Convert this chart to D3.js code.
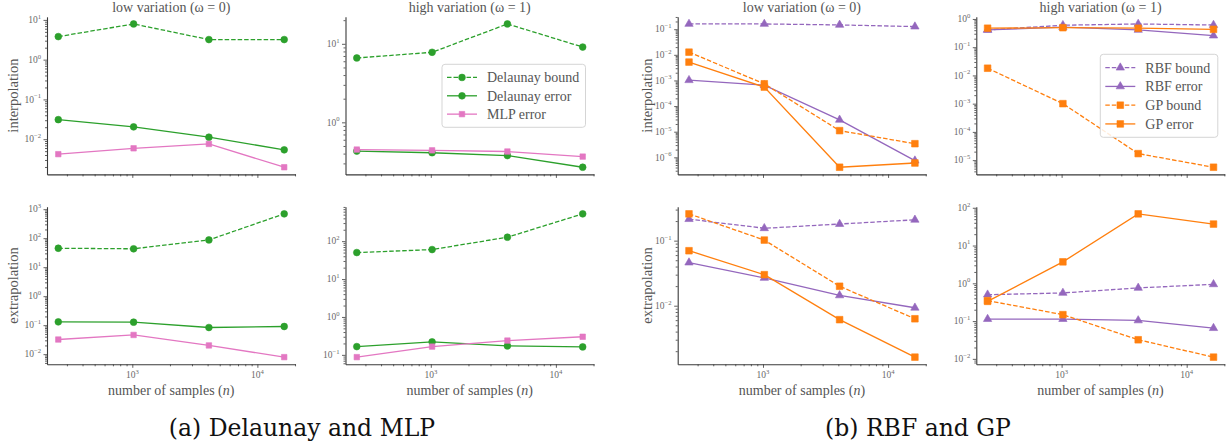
<!DOCTYPE html>
<html>
<head>
<meta charset="utf-8">
<script src="https://cdn.jsdelivr.net/npm/d3@7"></script>
<style>
  body { margin: 0; background: #fff; }
  text { font-family: "Liberation Serif", "DejaVu Serif", serif; }
  text.caption { font-family: "DejaVu Serif", serif; }
</style>
</head>
<body>
<script>
// sample sizes shared by every panel
var nSamples = [256, 1024, 4096, 16384];

// (a) Delaunay and MLP
var delaunayBoundLowInt = [3.8, 7.9, 3.2, 3.2];
var delaunayErrLowInt = [0.031, 0.0204, 0.0112, 0.0054];
var mlpErrLowInt = [0.0042, 0.0059, 0.0076, 0.00197];
var delaunayBoundHighInt = [6.6, 7.8, 17.9, 9.1];
var delaunayErrHighInt = [0.43, 0.41, 0.377, 0.268];
var mlpErrHighInt = [0.45, 0.44, 0.425, 0.366];
var delaunayBoundLowExt = [45, 43, 87, 690];
var delaunayErrLowExt = [0.13, 0.127, 0.083, 0.09];
var mlpErrLowExt = [0.032, 0.046, 0.020, 0.0079];
var delaunayBoundHighExt = [50, 60, 127, 525];
var delaunayErrHighExt = [0.165, 0.22, 0.172, 0.162];
var mlpErrHighExt = [0.087, 0.165, 0.238, 0.30];

// (b) RBF and GP
var rbfBoundLowInt = [0.16, 0.16, 0.147, 0.126];
var rbfErrLowInt = [0.00102, 0.00065, 2.9e-5, 7.4e-7];
var gpBoundLowInt = [0.0127, 0.00074, 1.1e-5, 3.4e-6];
var gpErrLowInt = [0.0052, 0.00055, 4.1e-7, 6.0e-7];
var rbfBoundHighInt = [0.41, 0.6, 0.665, 0.61];
var rbfErrHighInt = [0.41, 0.51, 0.41, 0.257];
var gpBoundHighInt = [0.018, 0.001, 1.7e-5, 5.6e-6];
var gpErrHighInt = [0.47, 0.49, 0.47, 0.43];
var rbfBoundLowExt = [0.214, 0.155, 0.18, 0.209];
var rbfErrLowExt = [0.046, 0.0267, 0.0144, 0.0093];
var gpBoundLowExt = [0.258, 0.102, 0.0199, 0.0063];
var gpErrLowExt = [0.070, 0.030, 0.0061, 0.00162];
var rbfBoundHighExt = [0.5, 0.556, 0.755, 0.94];
var rbfErrHighExt = [0.113, 0.113, 0.104, 0.065];
var gpBoundHighExt = [0.348, 0.148, 0.032, 0.0111];
var gpErrHighExt = [0.333, 3.7, 69, 37];

var colTitles = ['low variation (\u03c9 = 0)', 'high variation (\u03c9 = 1)'];
var rowLabels = ['interpolation', 'extrapolation'];
var xLabel = 'number of samples (n)';
var captions = ['(a) Delaunay and MLP', '(b) RBF and GP'];

var green = '#2ca02c', pink = '#e377c2', purple = '#9467bd', orange = '#ff7f0e';

var styles = {
    dBound: {name: 'Delaunay bound', color: green, dash: true, marker: d3.symbolCircle, size: 36},
    dErr: {name: 'Delaunay error', color: green, dash: false, marker: d3.symbolCircle, size: 36},
    mlpErr: {name: 'MLP error', color: pink, dash: false, marker: d3.symbolSquare, size: 30},
    rBound: {name: 'RBF bound', color: purple, dash: true, marker: d3.symbolTriangle, size: 30},
    rErr: {name: 'RBF error', color: purple, dash: false, marker: d3.symbolTriangle, size: 30},
    gBound: {name: 'GP bound', color: orange, dash: true, marker: d3.symbolSquare, size: 44},
    gErr: {name: 'GP error', color: orange, dash: false, marker: d3.symbolSquare, size: 44}
};

var colX = [47, 345.5, 677.7, 976.3];
var rowY = [16.8, 206.7];
var W = 248.5, H = 157.6;

var panels = [
    {col: 0, row: 0, series: [['dBound', delaunayBoundLowInt], ['dErr', delaunayErrLowInt], ['mlpErr', mlpErrLowInt]]},
    {col: 1, row: 0, series: [['dBound', delaunayBoundHighInt], ['dErr', delaunayErrHighInt], ['mlpErr', mlpErrHighInt]],
        legend: {x: 96.5, y: 47.5, w: 143.5, h: 63}},
    {col: 0, row: 1, series: [['dBound', delaunayBoundLowExt], ['dErr', delaunayErrLowExt], ['mlpErr', mlpErrLowExt]]},
    {col: 1, row: 1, series: [['dBound', delaunayBoundHighExt], ['dErr', delaunayErrHighExt], ['mlpErr', mlpErrHighExt]]},
    {col: 2, row: 0, series: [['rBound', rbfBoundLowInt], ['rErr', rbfErrLowInt], ['gBound', gpBoundLowInt], ['gErr', gpErrLowInt]]},
    {col: 3, row: 0, series: [['rBound', rbfBoundHighInt], ['rErr', rbfErrHighInt], ['gBound', gpBoundHighInt], ['gErr', gpErrHighInt]],
        legend: {x: 124, y: 37.5, w: 117.5, h: 83}},
    {col: 2, row: 1, series: [['rBound', rbfBoundLowExt], ['rErr', rbfErrLowExt], ['gBound', gpBoundLowExt], ['gErr', gpErrLowExt]]},
    {col: 3, row: 1, series: [['rBound', rbfBoundHighExt], ['rErr', rbfErrHighExt], ['gBound', gpBoundHighExt], ['gErr', gpErrHighExt]]}
];

var svg = d3.select('body').append('svg')
    .attr('width', 1231)
    .attr('height', 444);

var axisColor = '#3a3a3a';
var tickText = '#6a6a6a';
var labelText = '#555';

// matplotlib-like 5% padding in log space
function logDomain(values) {
    var ext = d3.extent(values.map(Math.log10));
    var m = 0.05 * (ext[1] - ext[0]);
    return [Math.pow(10, ext[0] - m), Math.pow(10, ext[1] + m)];
}

function decades(domain) {
    var lo = Math.ceil(Math.log10(domain[0]) - 1e-9), hi = Math.floor(Math.log10(domain[1]) + 1e-9);
    return d3.range(lo, hi + 1);
}

function minors(domain) {
    var out = [];
    var lo = Math.floor(Math.log10(domain[0])), hi = Math.ceil(Math.log10(domain[1]));
    for (var e = lo; e <= hi; e++) {
        for (var k = 2; k <= 9; k++) {
            var v = k * Math.pow(10, e);
            if (v >= domain[0] && v <= domain[1]) out.push(v);
        }
    }
    return out;
}

function powLabel(sel, e, size) {
    sel.append('tspan').text('10');
    sel.append('tspan')
        .attr('dy', -size * 0.45)
        .attr('font-size', size * 0.7)
        .text(e < 0 ? '\u2212' + (-e) : '' + e);
}

function drawMarker(g, st, x, y) {
    g.append('path')
        .attr('transform', 'translate(' + x + ',' + y + ')')
        .attr('d', d3.symbol().type(st.marker).size(st.size)())
        .attr('fill', st.color)
        .attr('stroke', st.color)
        .attr('stroke-width', 0.6);
}

function drawPanel(p) {
    var g = svg.append('g').attr('transform', 'translate(' + colX[p.col] + ',' + rowY[p.row] + ')');

    var x = d3.scaleLog().domain(logDomain(nSamples)).range([0, W]);
    var allVals = [];
    p.series.forEach(function (s) { allVals = allVals.concat(s[1]); });
    var y = d3.scaleLog().domain(logDomain(allVals)).range([H, 0]);

    // x axis: major + minor ticks
    var xMaj = decades(x.domain()).map(function (e) { return Math.pow(10, e); });
    var xa = g.append('g').attr('transform', 'translate(0,' + H + ')');
    xa.call(d3.axisBottom(x).tickValues(xMaj).tickFormat('').tickSize(3.5).tickSizeOuter(0));
    xa.append('g').call(d3.axisBottom(x).tickValues(minors(x.domain())).tickFormat('').tickSize(2).tickSizeOuter(0))
        .select('.domain').remove();
    if (p.row === 1) {
        decades(x.domain()).forEach(function (e) {
            var t = xa.append('text')
                .attr('x', x(Math.pow(10, e)))
                .attr('y', 14)
                .attr('text-anchor', 'middle')
                .attr('font-size', 9.5)
                .attr('fill', tickText);
            powLabel(t, e, 9.5);
        });
        var xl = g.append('text')
            .attr('x', W / 2)
            .attr('y', H + 31)
            .attr('text-anchor', 'middle')
            .attr('font-size', 14)
            .attr('fill', labelText);
        xl.append('tspan').text(xLabel.replace('(n)', '('));
        xl.append('tspan').attr('font-style', 'italic').text('n');
        xl.append('tspan').text(')');
    }

    // y axis
    var ya = g.append('g');
    var yMaj = decades(y.domain()).map(function (e) { return Math.pow(10, e); });
    ya.call(d3.axisLeft(y).tickValues(yMaj).tickFormat('').tickSize(3.5).tickSizeOuter(0));
    ya.append('g').call(d3.axisLeft(y).tickValues(minors(y.domain())).tickFormat('').tickSize(2).tickSizeOuter(0))
        .select('.domain').remove();
    decades(y.domain()).forEach(function (e) {
        var t = ya.append('text')
            .attr('x', -6)
            .attr('y', y(Math.pow(10, e)) + 3.2)
            .attr('text-anchor', 'end')
            .attr('font-size', 9.5)
            .attr('fill', tickText);
        powLabel(t, e, 9.5);
    });

    g.selectAll('.domain').attr('stroke', axisColor).attr('stroke-width', 1.1);
    g.selectAll('.tick line').attr('stroke', axisColor).attr('stroke-width', 0.8);

    if (p.row === 0) {
        g.append('text')
            .attr('x', W / 2)
            .attr('y', -4.5)
            .attr('text-anchor', 'middle')
            .attr('font-size', 14)
            .attr('fill', labelText)
            .text(colTitles[p.col % 2]);
    }
    if (p.col % 2 === 0) {
        g.append('text')
            .attr('transform', 'translate(' + (p.col === 0 ? -34 : -31) + ',' + (H / 2) + ') rotate(-90)')
            .attr('text-anchor', 'middle')
            .attr('dy', '0.35em')
            .attr('font-size', 14.5)
            .attr('fill', labelText)
            .text(rowLabels[p.row]);
    }

    // series
    var line = d3.line()
        .x(function (d, i) { return x(nSamples[i]); })
        .y(function (d) { return y(d); });
    p.series.forEach(function (s) {
        var st = styles[s[0]];
        g.append('path')
            .datum(s[1])
            .attr('fill', 'none')
            .attr('stroke', st.color)
            .attr('stroke-width', 1.3)
            .attr('stroke-dasharray', st.dash ? '4.5,2' : null)
            .attr('d', line);
        s[1].forEach(function (v, i) {
            drawMarker(g, st, x(nSamples[i]), y(v));
        });
    });

    if (p.legend) {
        var L = p.legend;
        var lg = g.append('g').attr('transform', 'translate(' + L.x + ',' + L.y + ')');
        lg.append('rect')
            .attr('width', L.w).attr('height', L.h)
            .attr('rx', 3)
            .attr('fill', 'rgba(255,255,255,0.85)')
            .attr('stroke', '#d0d0d0')
            .attr('stroke-width', 0.9);
        var step = (L.h - 8) / p.series.length;
        p.series.forEach(function (s, i) {
            var st = styles[s[0]];
            var cy = 4 + step * (i + 0.5);
            lg.append('line')
                .attr('x1', 5).attr('x2', 35)
                .attr('y1', cy).attr('y2', cy)
                .attr('stroke', st.color)
                .attr('stroke-width', 1.3)
                .attr('stroke-dasharray', st.dash ? '4.5,2' : null);
            drawMarker(lg, st, 20, cy);
            lg.append('text')
                .attr('x', 45)
                .attr('y', cy)
                .attr('dy', '0.35em')
                .attr('font-size', 14)
                .attr('fill', labelText)
                .text(st.name);
        });
    }
}

panels.forEach(drawPanel);

// sub-figure captions
svg.append('text')
    .attr('class', 'caption')
    .attr('x', 302).attr('y', 436)
    .attr('text-anchor', 'middle')
    .attr('font-size', 23.5)
    .attr('fill', '#111')
    .text(captions[0]);
svg.append('text')
    .attr('class', 'caption')
    .attr('x', 918).attr('y', 436)
    .attr('text-anchor', 'middle')
    .attr('font-size', 23.5)
    .attr('fill', '#111')
    .text(captions[1]);
</script>
</body>
</html>
